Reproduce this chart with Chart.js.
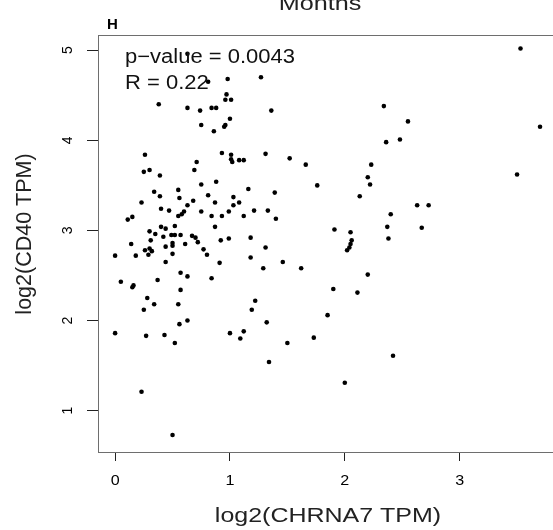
<!DOCTYPE html>
<html>
<head>
<meta charset="utf-8">
<script src="https://cdn.jsdelivr.net/npm/chart.js@4/dist/chart.umd.min.js"></script>
<style>
  html, body { margin: 0; padding: 0; background: #fff; overflow: hidden; }
  #wrap { width: 553px; height: 530px; overflow: hidden; }
</style>
</head>
<body>
<div id="wrap">
  <canvas id="myChart" width="600" height="530"></canvas>
</div>
<script>
// log2(CHRNA7 TPM) on x, log2(CD40 TPM) on y, one entry per sample
let chrna7 = [
  0.63, 0.81, 0.98, 1.27, 0.38, 0.63, 0.74, 0.84, 0.88, 0.97, 0.96, 1.01, 1.36, 1.00, 0.96, 0.95,
  0.75, 0.86, 0.26, 0.93, 1.01, 1.01, 1.02, 1.08, 1.12, 1.31, 1.52, 1.66, 0.71, 0.69, 0.25, 0.30,
  0.39, 1.76, 0.75, 0.88, 0.34, 0.39, 0.55, 0.56, 0.81, 1.03, 1.16, 1.39, 0.23, 0.68, 0.87, 1.08,
  3.53, 2.34, 2.55, 2.36, 2.48, 3.70, 2.23, 2.20, 2.22, 3.50, 2.13,
  2.63, 2.73, 2.40, 1.91, 2.05, 2.37, 2.67, 2.38, 2.06, 2.05, 2.04, 2.02, 2.20, 1.90, 2.11, 1.85,
  2.42, 2.00,
  0.40, 0.47, 0.63, 0.60, 0.58, 0.55, 0.75, 0.84, 0.93, 0.99, 1.03, 1.12, 1.21, 1.33, 1.40, 0.11,
  0.15, 0.40, 0.44, 0.52, 0.30, 0.35, 0.42, 0.49, 0.52, 0.57, 0.67, 0.70, 0.87, 0.92, 0.99, 1.18,
  0.14, 0.31, 0.44, 0.50, 0.50, 0.61, 0.72, 0.26, 0.30, 0.32, 0.29, 0.00, 0.18, 0.50, 0.77, 0.80,
  0.44, 0.91, 1.18, 1.31, 1.29, 1.46, 1.62, 0.05, 0.16, 0.15, 0.37, 0.57, 0.63, 0.84, 0.57, 0.28,
  0.34, 0.25, 0.55, 1.22, 1.19, 0.56, 0.63, 1.32, 0.00, 0.27, 0.43, 0.52, 1.00, 1.12, 1.09, 1.50,
  1.73, 1.34, 0.23, 0.50
];
let cd40 = [
  4.96, 4.65, 4.68, 4.70, 4.40, 4.36, 4.33, 4.36, 4.36, 4.51, 4.45, 4.45, 4.33, 4.24, 4.17, 4.15,
  4.17, 4.10, 3.84, 3.86, 3.84, 3.79, 3.76, 3.78, 3.78, 3.85, 3.80, 3.73, 3.76, 3.67, 3.65, 3.67,
  3.61, 3.50, 3.51, 3.54, 3.43, 3.38, 3.45, 3.36, 3.39, 3.37, 3.46, 3.42, 3.31, 3.33, 3.31, 3.31,
  5.02, 4.38, 4.21, 3.98, 4.01, 4.15, 3.73, 3.59, 3.51, 3.62, 3.38,
  3.28, 3.28, 3.18, 3.01, 2.98, 3.04, 3.03, 2.91, 2.89, 2.85, 2.81, 2.78, 2.51, 2.35, 2.31, 2.06,
  1.61, 1.31,
  3.24, 3.22, 3.28, 3.21, 3.18, 3.16, 3.21, 3.16, 3.16, 3.21, 3.28, 3.16, 3.22, 3.22, 3.13, 3.12,
  3.15, 3.04, 3.02, 3.05, 2.99, 2.96, 2.93, 2.95, 2.95, 2.95, 2.94, 2.92, 3.04, 2.89, 2.91, 2.92,
  2.85, 2.89, 2.82, 2.86, 2.83, 2.85, 2.87, 2.78, 2.80, 2.77, 2.73, 2.72, 2.72, 2.74, 2.79, 2.73,
  2.65, 2.64, 2.70, 2.81, 2.58, 2.65, 2.58, 2.43, 2.39, 2.37, 2.45, 2.53, 2.49, 2.47, 2.34, 2.25,
  2.18, 2.12, 2.18, 2.22, 2.12, 1.96, 2.00, 1.98, 1.86, 1.83, 1.84, 1.75, 1.86, 1.88, 1.80, 1.75,
  1.81, 1.54, 1.21, 0.73
];
let xTicks = [0, 1, 2, 3];
let yTicks = [1, 2, 3, 4, 5];
let statLines = ['p\u2212value = 0.0043', 'R = 0.22'];

const FONT = '"Liberation Sans", Arial, sans-serif';

let points = chrna7.map((x, i) => ({ x: x, y: cd40[i] }));

// the source picture is a bit wider than tall, so horizontal text gets stretched
function wideText(ctx, text, x, y, sx) {
  ctx.save();
  ctx.translate(x, y);
  ctx.scale(sx, 1);
  ctx.fillText(text, 0, 0);
  ctx.restore();
}

// frame, tick labels and the loose text
const decorations = {
  id: 'decorations',
  afterDraw(chart) {
    const ctx = chart.ctx;
    const area = chart.chartArea;
    const xScale = chart.scales.x;
    const yScale = chart.scales.y;

    ctx.save();
    ctx.strokeStyle = '#6e6e6e';
    ctx.lineWidth = 1;
    ctx.strokeRect(Math.round(area.left) + 0.5, Math.round(area.top) + 0.5,
      Math.round(area.right - area.left), Math.round(area.bottom - area.top));

    ctx.fillStyle = '#000';
    ctx.font = '14px ' + FONT;
    ctx.textAlign = 'center';
    ctx.textBaseline = 'middle';
    yTicks.forEach(v => {
      ctx.save();
      ctx.translate(68, yScale.getPixelForValue(v));
      ctx.rotate(-Math.PI / 2);
      ctx.fillText(String(v), 0, 0);
      ctx.restore();
    });

    ctx.textBaseline = 'alphabetic';
    xTicks.forEach(v => {
      wideText(ctx, String(v), xScale.getPixelForValue(v), 485, 1.15);
    });

    // axis titles
    ctx.fillStyle = '#222';
    ctx.font = '21px ' + FONT;
    wideText(ctx, 'log2(CHRNA7 TPM)', 328, 522, 1.19);
    ctx.save();
    ctx.font = '21.5px ' + FONT;
    ctx.translate(31, 234);
    ctx.rotate(-Math.PI / 2);
    ctx.fillText('log2(CD40 TPM)', 0, 0);
    ctx.restore();

    // cut-off title above the panel
    ctx.font = '21px ' + FONT;
    wideText(ctx, 'Months', 320, 10, 1.2);

    ctx.textAlign = 'left';
    ctx.font = 'bold 15px ' + FONT;
    ctx.fillStyle = '#000';
    ctx.fillText('H', 107, 29);

    ctx.font = '20px ' + FONT;
    ctx.fillStyle = '#111';
    wideText(ctx, statLines[0], 125, 63, 1.1);
    wideText(ctx, statLines[1], 125, 89, 1.1);
    ctx.restore();
  }
};

new Chart(document.getElementById('myChart'), {
  type: 'scatter',
  data: {
    datasets: [{
      label: 'samples',
      data: points,
      backgroundColor: '#000',
      borderColor: '#000',
      borderWidth: 0,
      pointRadius: 2.3,
      pointHoverRadius: 2.3
    }]
  },
  options: {
    responsive: false,
    animation: false,
    devicePixelRatio: 1,
    layout: { padding: { top: 35, right: 37, left: 0, bottom: 0 } },
    plugins: {
      legend: { display: false },
      tooltip: { enabled: false }
    },
    scales: {
      x: {
        type: 'linear',
        min: -0.149,
        max: 3.9,
        afterBuildTicks: (scale) => { scale.ticks = xTicks.map(v => ({ value: v })); },
        afterFit: (scale) => { scale.height = 78; },
        border: { display: false },
        grid: { drawOnChartArea: false, tickLength: 9, tickColor: '#222', tickWidth: 1 },
        ticks: { display: false }
      },
      y: {
        type: 'linear',
        min: 0.541,
        max: 5.169,
        afterBuildTicks: (scale) => { scale.ticks = yTicks.map(v => ({ value: v })); },
        afterFit: (scale) => { scale.width = 98; },
        border: { display: false },
        grid: { drawOnChartArea: false, tickLength: 11, tickColor: '#222', tickWidth: 1 },
        ticks: { display: false }
      }
    }
  },
  plugins: [decorations]
});
</script>
</body>
</html>
